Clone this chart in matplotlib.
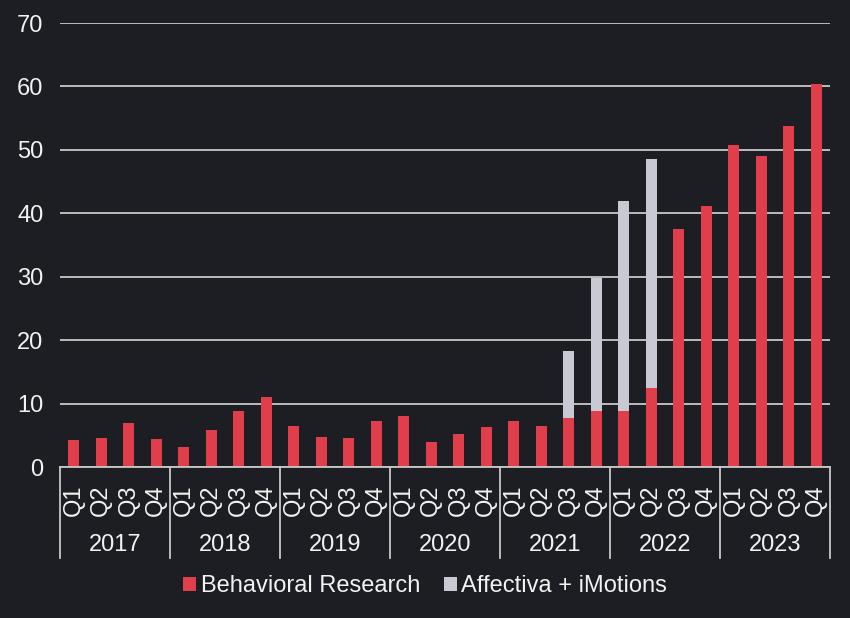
import matplotlib
matplotlib.use("Agg")
import matplotlib.pyplot as plt
import matplotlib.transforms as mtransforms
import numpy as np

years = ["2017", "2018", "2019", "2020", "2021", "2022", "2023"]
quarters = ["Q1", "Q2", "Q3", "Q4"]
behavioral = [4.3, 4.6, 7.0, 4.4,
              3.2, 5.8, 8.8, 11.0,
              6.5, 4.8, 4.5, 7.3,
              8.0, 4.0, 5.2, 6.3,
              7.3, 6.5, 7.7, 8.8,
              8.8, 12.4, 37.6, 41.2,
              50.7, 49.0, 53.8, 60.4]
affectiva = [0, 0, 0, 0,
             0, 0, 0, 0,
             0, 0, 0, 0,
             0, 0, 0, 0,
             0, 0, 10.6, 21.0,
             33.1, 36.1, 0, 0,
             0, 0, 0, 0]
yticks = [0, 10, 20, 30, 40, 50, 60, 70]

BG = "#1d1e23"
RED = "#e03e4a"
GRAY = "#c9c9d3"
GRID = "#c8c8c8"
TXT = "#f2f2f2"

plt.rcParams["font.family"] = ["Liberation Sans", "DejaVu Sans"]
plt.rcParams["font.size"] = 17

fig = plt.figure(figsize=(8.5, 6.18), dpi=100, facecolor=BG)
W, H = 850, 618
ax = fig.add_axes([60 / W, 1 - 467 / H, 770 / W, 444 / H])
ax.set_facecolor(BG)

x = np.arange(len(behavioral))
bw = 0.4
ax.bar(x, behavioral, width=bw, color=RED, label="Behavioral Research", zorder=3)
ax.bar(x, affectiva, width=bw, bottom=behavioral, color=GRAY,
       label="Affectiva + iMotions", zorder=3)

ax.set_xlim(-0.5, len(x) - 0.5)
ax.set_ylim(0, 70)
ax.set_yticks(yticks)
ax.set_yticklabels([str(v) for v in yticks], color=TXT)
ax.tick_params(axis="y", length=0, pad=12)
ax.yaxis.grid(True, color=GRID, linewidth=1.3, zorder=0)
ax.set_axisbelow(True)
ax.set_xticks([])
for s in ["top", "right", "left"]:
    ax.spines[s].set_visible(False)
ax.spines["bottom"].set_color(GRID)
ax.spines["bottom"].set_linewidth(1.3)
ax.spines["bottom"].set_zorder(4)

trans = mtransforms.blended_transform_factory(ax.transData, ax.transAxes)
q_y = -(500 - 467) / 444
yr_y = -(545 - 467) / 444
sep_bottom = -(558 - 467) / 444
nq = len(quarters)
for i, yr in enumerate(years):
    for j, q in enumerate(quarters):
        ax.text(i * nq + j, q_y, q, rotation=90, ha="center", va="center",
                color=TXT, transform=trans)
    ax.text(i * nq + (nq - 1) / 2, yr_y, yr, ha="center", va="center",
            color=TXT, transform=trans)
for k in range(len(years) + 1):
    xs = k * nq - 0.5
    ax.plot([xs, xs], [0, sep_bottom], color=GRID, linewidth=1.3,
            transform=trans, clip_on=False)

fig.legend(loc="center", bbox_to_anchor=(0.5, 1 - 586 / H), ncol=2,
           frameon=False, handlelength=0.55, handleheight=0.55,
           handletextpad=0.2, columnspacing=1.0, labelcolor=TXT,
           fontsize=17)

fig.savefig("out.png", dpi=100, facecolor=BG)
